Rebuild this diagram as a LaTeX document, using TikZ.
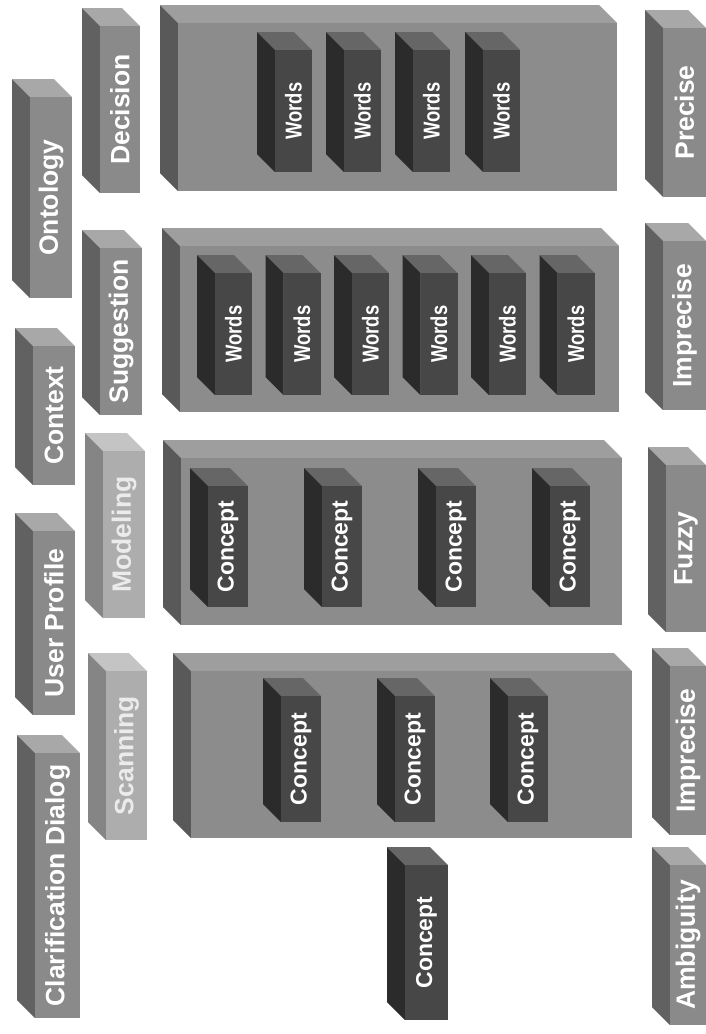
\documentclass[tikz,border=0pt]{standalone}
\usepackage{fontspec}
\setmainfont{Liberation Sans}
\usepackage{tikz}

% greys of the slabs: F front, S left side, T top
\definecolor{lblF}{gray}{0.54}
\definecolor{lblS}{gray}{0.38}
\definecolor{lblT}{gray}{0.66}
\definecolor{paleF}{gray}{0.68}
\definecolor{paleS}{gray}{0.52}
\definecolor{paleT}{gray}{0.77}
\definecolor{bigF}{gray}{0.55}
\definecolor{bigS}{gray}{0.35}
\definecolor{bigT}{gray}{0.62}
\definecolor{darkF}{gray}{0.28}
\definecolor{darkS}{gray}{0.17}
\definecolor{darkT}{gray}{0.40}

\tikzset{
    labeltext/.style={text=white, inner sep=0pt, font=\bfseries\fontsize{26.5}{28}\selectfont},
    paletext/.style={labeltext, text=white!92!black},
    wordtext/.style={text=white, inner sep=0pt, xscale=0.8, font=\bfseries\fontsize{23}{25}\selectfont},
    concepttext/.style={text=white, inner sep=0pt, font=\bfseries\fontsize{23}{25}\selectfont},
    notext/.style={inner sep=0pt}
}

% \slab{name}{kind}{text style}{x1}{y1}{x2}{y2}{text}, depth 18
\newcommand{\slab}[8]{%
    \fill[#2T] (#4,#5) -- (#6-18,#5) -- (#6,#5+18) -- (#4+18,#5+18) -- cycle;
    \fill[#2S] (#4,#5) -- (#4+18,#5+18) -- (#4+18,#7) -- (#4,#7-18) -- cycle;
    \fill[#2F] (#4+18,#5+18) rectangle (#6,#7);
    \node[rotate=90, #3] (#1) at ({(#4+18+#6)/2},{(#5+18+#7)/2}) {#8};
}

\begin{document}
\begin{tikzpicture}[x=1pt, y=-1pt]
    \useasboundingbox (0,0) rectangle (706,1034);

    % first column
    \slab{clar}{lbl}{labeltext}{17}{735}{80}{1018}{Clarification Dialog}
    \slab{user}{lbl}{labeltext}{15}{513}{75}{715}{User Profile}
    \slab{context}{lbl}{labeltext}{15}{328}{75}{485}{Context}
    \slab{onto}{lbl}{labeltext}{12}{79}{72}{298}{Ontology}

    % second column
    \slab{scan}{pale}{paletext}{88}{653}{147}{840}{Scanning}
    \slab{model}{pale}{paletext}{85}{433}{145}{618}{Modeling}
    \slab{sugg}{lbl}{labeltext}{82}{230}{142}{415}{Suggestion}
    \slab{deci}{lbl}{labeltext}{82}{8}{140}{193}{Decision}

    % big slabs
    \slab{bigdeci}{big}{notext}{160}{5}{617}{191}{}
    \slab{bigsugg}{big}{notext}{162}{228}{619}{412}{}
    \slab{bigmodel}{big}{notext}{163}{440}{622}{625}{}
    \slab{bigscan}{big}{notext}{173}{653}{632}{838}{}

    \foreach \x [count=\i] in {257,326,395,465}
        \slab{dw\i}{dark}{wordtext}{\x}{32}{\x+55}{172}{Words};
    \foreach \x [count=\i] in {197,265.5,334,402.5,471,539.5}
        \slab{sw\i}{dark}{wordtext}{\x}{255}{\x+55}{395}{Words};
    \foreach \x [count=\i] in {190,304,418,532}
        \slab{mc\i}{dark}{concepttext}{\x}{468}{\x+58}{607}{Concept};
    \foreach \x [count=\i] in {263,377,490}
        \slab{sc\i}{dark}{concepttext}{\x}{678}{\x+58}{822}{Concept};

    \slab{concept}{dark}{concepttext}{387}{847}{448}{1020}{Concept}

    % right column
    \slab{precise}{lbl}{labeltext}{645}{10}{706}{197}{Precise}
    \slab{impreA}{lbl}{labeltext}{645}{223}{706}{410}{Imprecise}
    \slab{fuzzy}{lbl}{labeltext}{648}{447}{706}{632}{Fuzzy}
    \slab{impreB}{lbl}{labeltext}{652}{648}{706}{835}{Imprecise}
    \slab{ambig}{lbl}{labeltext}{652}{847}{706}{1025}{Ambiguity}
\end{tikzpicture}
\end{document}
